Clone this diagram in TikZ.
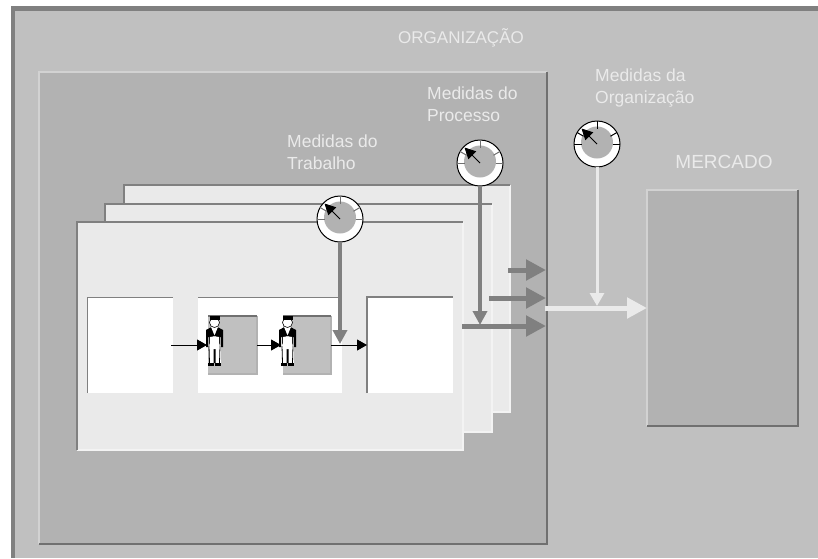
\documentclass[tikz,border=0pt]{standalone}
\usepackage{fontspec}
\setmainfont{Liberation Sans}
\usetikzlibrary{arrows.meta,positioning,calc}
\definecolor{orgfill}{HTML}{C0C0C0}
\definecolor{midfill}{HTML}{B2B2B2}
\definecolor{pagefill}{HTML}{EAEAEA}
\definecolor{edgedark}{HTML}{707070}
\definecolor{edgemid}{HTML}{808080}
\definecolor{edgelight}{HTML}{D2D2D2}
\newcommand{\gaugemark}[3]{%
\node[gauge] (#1) at (#2) {};
\fill[midfill] ($(#1)+(0,-1.5)$) circle (16);
\foreach \ang in {0,-30,-90,-150,180} \draw[#3,line width=1pt] (#1.center)++(\ang:15.5) -- ++(\ang:7.5);
\draw[needle] (#1.center) -- ++(-15.5,-15.5);
}
\newcommand{\clerk}[1]{%
\begin{scope}[shift={(#1)}]
\fill[white] (-6,30) rectangle (6,47);
\draw[black,line width=0.8pt] (-5.5,30) -- (-5,47) (-0.6,33) -- (-0.6,47) (0.6,33) -- (0.6,47) (5.5,30) -- (5,47);
\fill[black] (-8.5,14) -- (-3,11) -- (0,20) -- (3,11) -- (8.5,14) -- (8.5,31) -- (6.5,31) -- (6.5,21) -- (5.5,21) -- (5.5,29) -- (1.5,20) -- (-1.5,20) -- (-5.5,29) -- (-5.5,21) -- (-6.5,21) -- (-6.5,31) -- (-8.5,31) -- cycle;
\fill[white] (-3.5,11) -- (3.5,11) -- (0,19) -- cycle;
\fill[white] (-4.6,21) -- (-1.5,20.5) -- (1.5,20.5) -- (4.6,21) -- (4.6,33) -- (-4.6,33) -- cycle;
\draw[black,line width=0.6pt,fill=white] (0,6.5) circle (5);
\fill[black] (-5,0) rectangle (5,3.5);
\fill[black] (-6.5,47) rectangle (-0.5,50);
\fill[black] (0.5,47) rectangle (6.5,50);
\end{scope}}
\begin{document}
\begin{tikzpicture}[x=1pt,y=-1pt,
panel/.style={inner sep=0pt,outer sep=0pt,minimum width=#1},
orgbox/.style={panel=#1,fill=midfill},
pagebox/.style={panel=#1,fill=pagefill},
whitebox/.style={panel=#1,fill=white},
grayblock/.style={panel=#1,fill=orgfill},
gauge/.style={circle,draw=black,line width=1pt,fill=white,minimum size=46,inner sep=0pt,outer sep=0pt},
needle/.style={-{Triangle[length=11,width=11]},line width=0.8pt,black},
flow/.style={-{Triangle[length=10,width=11]},line width=1pt,black},
probe/.style={-{Triangle[length=14,width=14]},line width=4pt,edgemid},
output/.style={-{Triangle[length=20,width=20]},line width=5pt,edgemid},
marketflow/.style={-{Triangle[length=20,width=20]},line width=5pt,pagefill},
orgprobe/.style={-{Triangle[length=13,width=14]},line width=3pt,pagefill},
pageedge/.style={edgemid,line width=1.5pt},
caption/.style={text=pagefill,font=\fontsize{17.5}{22}\selectfont,align=left,inner sep=0pt}]
\useasboundingbox (0,0) rectangle (818,558);
\fill[white] (0,0) rectangle (818,558);
% organizacao
\node[panel=807,minimum height=552,fill=edgemid] (frame) at (414.5,282) {};
\fill[orgfill] (15,11) rectangle (818,558);
\node[orgbox=508,minimum height=472] (org) at (293,308) {};
\draw[edgelight,line width=2pt] (org.south west) -- (org.north west) -- (org.north east);
\draw[edgedark,line width=2pt] (org.north east) -- (org.south east) -- (org.south west);
\node[orgbox=151,minimum height=236] (market) at (722.5,308) {};
\draw[edgelight,line width=1.5pt] (market.south west) -- (market.north west) -- (market.north east);
\draw[edgedark,line width=2pt] (market.north east) -- (market.south east) -- (market.south west);
% paginas
\node[pagebox=386,minimum height=227] (page3) at (317,298.5) {};
\draw[white!40!pagefill,line width=1.5pt] (page3.north east) -- (page3.south east) -- (page3.south west);
\draw[pageedge] (page3.south west) -- (page3.north west) -- (page3.north east);
\node[pagebox=387,minimum height=228] (page2) at (298.5,318) {};
\draw[white!40!pagefill,line width=1.5pt] (page2.north east) -- (page2.south east) -- (page2.south west);
\draw[pageedge] (page2.south west) -- (page2.north west) -- (page2.north east);
\node[pagebox=386,minimum height=228] (page1) at (270,336) {};
\draw[white!40!pagefill,line width=1.5pt] (page1.north east) -- (page1.south east) -- (page1.south west);
\draw[pageedge] (page1.south west) -- (page1.north west) -- (page1.north east);
% caixas
\node[whitebox=86,minimum height=96] (input) at (130,345) {};
\draw[pageedge,line width=1pt] (input.south west) -- (input.north west) -- (input.north east);
\node[whitebox=144,minimum height=96] (work) at (270,345) {};
\draw[pageedge,line width=1pt] (work.north west) -- (work.north east);
\node[whitebox=86,minimum height=96] (result) at (410,345) {};
\draw[pageedge] (result.south west) -- (result.north west) -- (result.north east);
\node[grayblock=49,minimum height=58] (task1) at (232.5,345) {};
\draw[midfill,line width=1.5pt] (task1.north east) -- (task1.south east) -- (task1.south west);
\draw[edgedark,line width=1.2pt] (task1.north west) -- (task1.north east);
\node[grayblock=48,minimum height=58] (task2) at (307,345) {};
\draw[midfill,line width=1.5pt] (task2.north east) -- (task2.south east) -- (task2.south west);
\draw[edgedark,line width=1.2pt] (task2.north west) -- (task2.north east);
% setas
\coordinate (in1) at (171,345);
\coordinate (in2) at (207,345);
\coordinate (in3) at (257,345);
\coordinate (in4) at (281,345);
\coordinate (in5) at (331,345);
\draw[flow] (in1) -- (in2);
\draw[flow] (in3) -- (in4);
\draw[flow] (in5) -- (result.west);
\clerk{214.5,316}
\clerk{287.5,316}
\gaugemark{gaugework}{340,219}{edgedark}
\gaugemark{gaugeproc}{480,163}{edgedark}
\gaugemark{gaugeorg}{597,144}{black}
\coordinate (workhit) at (340,344);
\coordinate (prochit) at (480,325);
\coordinate (orghit) at (597,306);
\draw[probe] (gaugework) -- (workhit);
\coordinate (out1a) at (508,270);
\coordinate (out1b) at (546,270);
\coordinate (out2a) at (489,298);
\coordinate (out2b) at (546,298);
\coordinate (out3a) at (462,326);
\coordinate (out3b) at (546,326);
\draw[output] (out1a) -- (out1b);
\draw[output] (out2a) -- (out2b);
\draw[output] (out3a) -- (out3b);
\draw[probe] (gaugeproc) -- (prochit);
\coordinate (marketin) at (545,308);
\draw[marketflow] (marketin) -- (market.west);
\draw[orgprobe] (gaugeorg) -- (orghit);
% textos
\node[caption,anchor=center,font=\fontsize{17}{22}\selectfont] (orgtitle) at (461,38) {ORGANIZAÇÃO};
\node[caption,anchor=center,font=\fontsize{19}{22}\selectfont] (markettitle) at (724,162) {MERCADO};
\node[caption,anchor=north west] (worktext) at (287,134.5) {Medidas do\\Trabalho};
\node[caption,anchor=north west] (proctext) at (427,86.5) {Medidas do\\Processo};
\node[caption,anchor=north west] (orgtext) at (595,69) {Medidas da\\Organização};
\end{tikzpicture}
\end{document}
